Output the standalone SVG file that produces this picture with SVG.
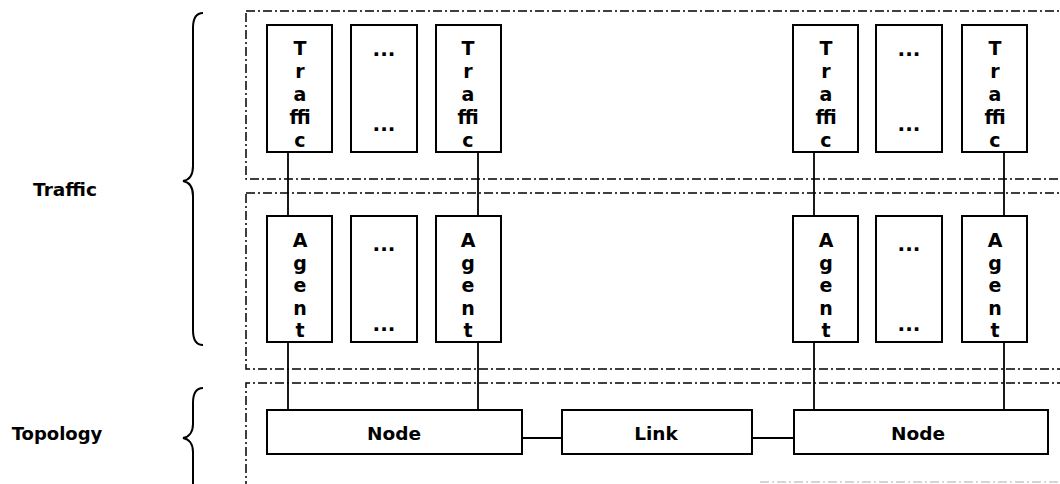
<svg xmlns="http://www.w3.org/2000/svg" width="1060" height="484" viewBox="0 0 1060 484">
  <style>
    .layer { fill: none; stroke: #000; stroke-width: 1.5; stroke-dasharray: 9 3 2 3; }
    .box { fill: #fff; stroke: #000; stroke-width: 2; }
    .wire { fill: none; stroke: #000; stroke-width: 1.8; }
    .brace { fill: none; stroke: #000; stroke-width: 2; }
    text { font-family: "DejaVu Sans", "Liberation Sans", sans-serif; font-weight: bold; fill: #000; }
    .lbl { font-size: 18.5px; text-anchor: middle; }
    .ch { font-size: 19px; text-anchor: middle; }
    .dots { font-size: 20px; text-anchor: middle; }
  </style>

  <rect width="1060" height="484" fill="#fff"/>

  <!-- side labels and braces -->
  <g id="label-traffic">
    <text class="lbl" x="65" y="196">Traffic</text>
    <path class="brace" d="M203,13 C196,13 193,18 193,28 L193,166 C193,175 189,180 183,181 C189,182 193,187 193,196 L193,330 C193,340 196,345 203,345"/>
  </g>
  <g id="label-topology">
    <text class="lbl" x="57" y="440" style="font-size:18px">Topology</text>
    <path class="brace" d="M203,388 C196,388 193,393 193,403 L193,424 C193,432 189,437 183,438 C189,439 193,444 193,452 L193,490"/>
  </g>

  <!-- dash-dot layer frames (open to the right) -->
  <g id="layers">
    <rect class="layer" x="246" y="11" width="900" height="168"/>
    <rect class="layer" x="246" y="193" width="900" height="176"/>
    <path class="layer" d="M1100,383 L246,383 L246,490"/>
    <path class="layer" d="M760,482 L1060,482" style="stroke:#c8c8c8"/>
  </g>

  <!-- connectors -->
  <g id="connectors">
    <line class="wire" x1="288" y1="152" x2="288" y2="216"/>
    <line class="wire" x1="478" y1="152" x2="478" y2="216"/>
    <line class="wire" x1="814" y1="152" x2="814" y2="216"/>
    <line class="wire" x1="1004" y1="152" x2="1004" y2="216"/>
    <line class="wire" x1="288" y1="342" x2="288" y2="410"/>
    <line class="wire" x1="478" y1="342" x2="478" y2="410"/>
    <line class="wire" x1="814" y1="342" x2="814" y2="410"/>
    <line class="wire" x1="1004" y1="342" x2="1004" y2="410"/>
    <line class="wire" x1="522" y1="438" x2="562" y2="438"/>
    <line class="wire" x1="752" y1="438" x2="794" y2="438"/>
  </g>

  <!-- traffic row -->
  <g id="traffic-1">
    <rect class="box" x="267" y="25" width="65" height="127"/>
    <text class="ch" x="300" y="55">T</text><text class="ch" x="300" y="78">r</text><text class="ch" x="300" y="101">a</text><text class="ch" x="300" y="124">ffi</text><text class="ch" x="300" y="147">c</text>
  </g>
  <g id="traffic-more-1">
    <rect class="box" x="351" y="25" width="66" height="127"/>
    <text class="dots" x="384" y="56">...</text><text class="dots" x="384" y="131">...</text>
  </g>
  <g id="traffic-2">
    <rect class="box" x="436" y="25" width="65" height="127"/>
    <text class="ch" x="468" y="55">T</text><text class="ch" x="468" y="78">r</text><text class="ch" x="468" y="101">a</text><text class="ch" x="468" y="124">ffi</text><text class="ch" x="468" y="147">c</text>
  </g>
  <g id="traffic-3">
    <rect class="box" x="793" y="25" width="65" height="127"/>
    <text class="ch" x="826" y="55">T</text><text class="ch" x="826" y="78">r</text><text class="ch" x="826" y="101">a</text><text class="ch" x="826" y="124">ffi</text><text class="ch" x="826" y="147">c</text>
  </g>
  <g id="traffic-more-2">
    <rect class="box" x="876" y="25" width="66" height="127"/>
    <text class="dots" x="909" y="56">...</text><text class="dots" x="909" y="131">...</text>
  </g>
  <g id="traffic-4">
    <rect class="box" x="962" y="25" width="65" height="127"/>
    <text class="ch" x="995" y="55">T</text><text class="ch" x="995" y="78">r</text><text class="ch" x="995" y="101">a</text><text class="ch" x="995" y="124">ffi</text><text class="ch" x="995" y="147">c</text>
  </g>

  <!-- agent row -->
  <g id="agent-1">
    <rect class="box" x="267" y="216" width="65" height="126"/>
    <text class="ch" x="300" y="247">A</text><text class="ch" x="300" y="269.5">g</text><text class="ch" x="300" y="292">e</text><text class="ch" x="300" y="314.5">n</text><text class="ch" x="300" y="337">t</text>
  </g>
  <g id="agent-more-1">
    <rect class="box" x="351" y="216" width="66" height="126"/>
    <text class="dots" x="384" y="251">...</text><text class="dots" x="384" y="331">...</text>
  </g>
  <g id="agent-2">
    <rect class="box" x="436" y="216" width="65" height="126"/>
    <text class="ch" x="468" y="247">A</text><text class="ch" x="468" y="269.5">g</text><text class="ch" x="468" y="292">e</text><text class="ch" x="468" y="314.5">n</text><text class="ch" x="468" y="337">t</text>
  </g>
  <g id="agent-3">
    <rect class="box" x="793" y="216" width="65" height="126"/>
    <text class="ch" x="826" y="247">A</text><text class="ch" x="826" y="269.5">g</text><text class="ch" x="826" y="292">e</text><text class="ch" x="826" y="314.5">n</text><text class="ch" x="826" y="337">t</text>
  </g>
  <g id="agent-more-2">
    <rect class="box" x="876" y="216" width="66" height="126"/>
    <text class="dots" x="909" y="251">...</text><text class="dots" x="909" y="331">...</text>
  </g>
  <g id="agent-4">
    <rect class="box" x="962" y="216" width="65" height="126"/>
    <text class="ch" x="995" y="247">A</text><text class="ch" x="995" y="269.5">g</text><text class="ch" x="995" y="292">e</text><text class="ch" x="995" y="314.5">n</text><text class="ch" x="995" y="337">t</text>
  </g>

  <!-- topology row -->
  <g id="node-1">
    <rect class="box" x="267" y="410" width="255" height="44"/>
    <text class="lbl" x="394" y="440">Node</text>
  </g>
  <g id="link">
    <rect class="box" x="562" y="410" width="190" height="44"/>
    <text class="lbl" x="656" y="440">Link</text>
  </g>
  <g id="node-2">
    <rect class="box" x="794" y="410" width="254" height="44"/>
    <text class="lbl" x="918" y="440">Node</text>
  </g>
</svg>
